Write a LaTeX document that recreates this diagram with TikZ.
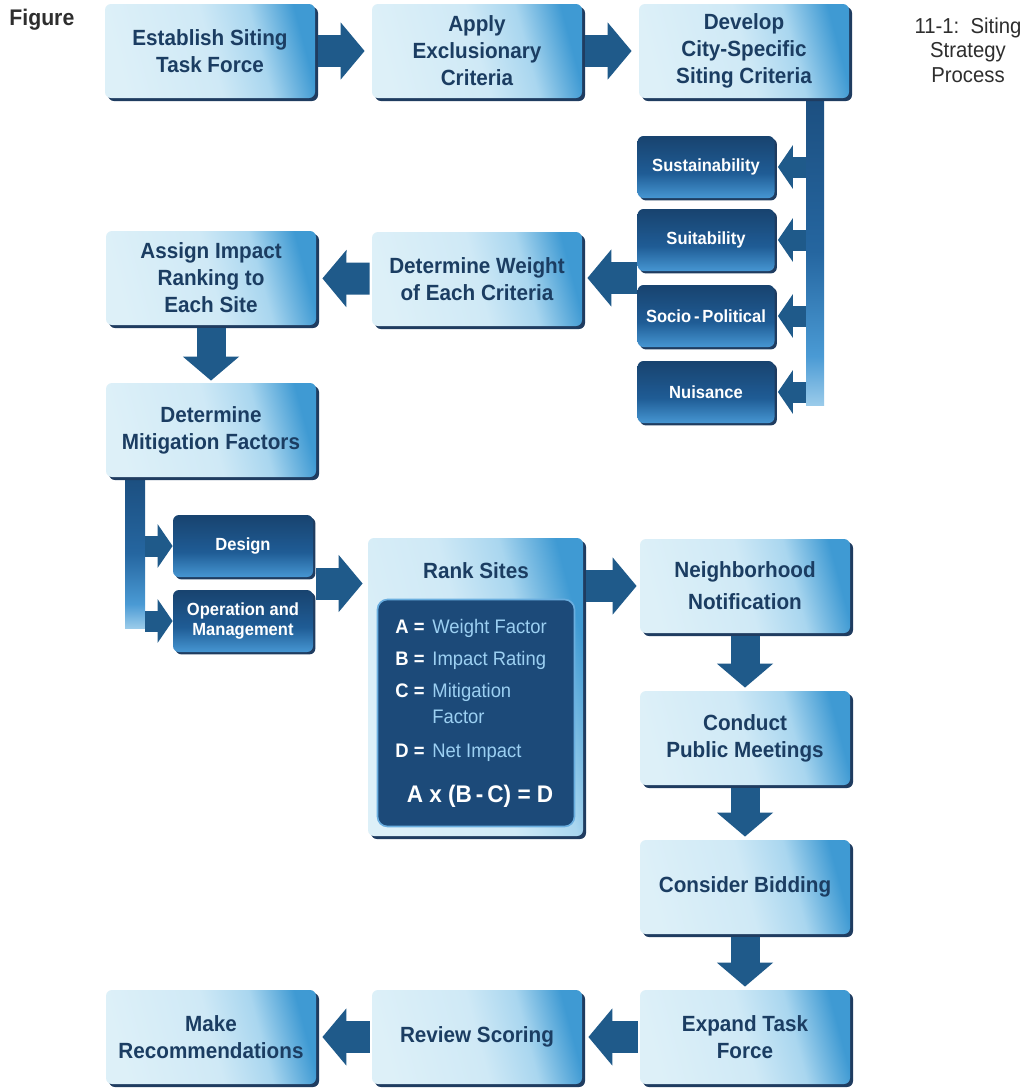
\documentclass[tikz,border=0pt]{standalone}
\usepackage{fontspec}
\setmainfont{Liberation Sans}[FakeStretch=0.94]
\usetikzlibrary{arrows.meta,shadows,calc}
\definecolor{bxA}{HTML}{DDF0F8}
\definecolor{bxM}{HTML}{CFE9F6}
\definecolor{bxB}{HTML}{A9D6EF}
\definecolor{bxC}{HTML}{3F9AD3}
\definecolor{shd}{HTML}{1F3C60}
\definecolor{arr}{HTML}{1F5A8A}
\definecolor{txt}{HTML}{1B3D62}
\definecolor{dkA}{HTML}{18436F}
\definecolor{dkB}{HTML}{1F5C95}
\definecolor{dkC}{HTML}{4696D2}
\definecolor{inn}{HTML}{1C4A79}
\definecolor{innE}{HTML}{6AAEDF}
\definecolor{ltxt}{HTML}{9CD0F2}
\definecolor{barA}{HTML}{1C4F80}
\definecolor{barB}{HTML}{2566A0}
\definecolor{barC}{HTML}{4A9AD4}
\definecolor{barD}{HTML}{9ACBEA}
\definecolor{ttl}{HTML}{2E2E2E}
\pgfdeclarehorizontalshading{lightbox}{100bp}{color(0bp)=(bxA); color(25bp)=(bxA); color(50bp)=(bxM); color(63bp)=(bxB); color(75bp)=(bxC); color(100bp)=(bxC)}
\pgfdeclareverticalshading{darkbox}{100bp}{color(0bp)=(dkC); color(25bp)=(dkC); color(45bp)=(dkB); color(75bp)=(dkA); color(100bp)=(dkA)}
\pgfdeclareverticalshading{barshade}{100bp}{color(0bp)=(barD); color(25bp)=(barD); color(33bp)=(barC); color(50bp)=(barB); color(75bp)=(barA); color(100bp)=(barA)}
\tikzset{
  lbox/.style={rounded corners=3pt, shading=lightbox, shading angle=15,
    minimum width=105pt, minimum height=47pt, inner sep=2pt, align=center,
    text=txt, font=\bfseries\fontsize{11}{13.5}\selectfont,
    drop shadow={shadow xshift=1.5pt, shadow yshift=-1.5pt, fill=shd, opacity=1}},
  dbox/.style={rounded corners=3pt, shading=darkbox, minimum width=68.5pt,
    minimum height=31pt, inner sep=2pt, align=center, text=white,
    font=\bfseries\fontsize{8.8}{10}\selectfont,
    drop shadow={shadow xshift=1.2pt, shadow yshift=-1.2pt, fill=shd, opacity=1}},
  barr/.style={draw=arr, line width=16pt, -{Triangle[length=12pt,width=28pt]}},
  darr/.style={draw=arr, line width=14.5pt, -{Triangle[length=12pt,width=27.5pt]}},
  sarr/.style={draw=arr, line width=10.5pt, -{Triangle[length=7.5pt,width=21.5pt]}},
  barfill/.style={shading=barshade},
  key/.style={anchor=base west, text=white, inner sep=0pt,
    font=\bfseries\fontsize{9.8}{11}\selectfont},
  val/.style={anchor=base west, text=ltxt, inner sep=0pt,
    font=\fontsize{9.8}{11}\selectfont},
  ttlsty/.style={text=ttl, inner sep=0pt}
}
\begin{document}
\begin{tikzpicture}[x=0.5pt, y=-0.5pt]
\fill[white] (0,0) rectangle (1028,1088);
\useasboundingbox (0,0) rectangle (1028,1088);

% titles
\node[ttlsty, anchor=base west, font=\bfseries\fontsize{11.3}{13}\selectfont] (fig) at (9,25) {Figure};
\node[ttlsty, anchor=north, align=center, font=\fontsize{10.8}{12.3}\selectfont] (title) at (968,17) {11-1:\ \ Siting\\Strategy\\Process};

% vertical bars
\shade[barfill] (806,98) rectangle (824,405);
\shade[barfill] (125,478) rectangle (145,628);
\coordinate (cb) at (806,0);
\coordinate (mb) at (145,0);

% main boxes
\node[lbox] (est) at (210,51) {Establish Siting\\Task Force};
\node[lbox] (apply) at (477,51) {Apply\\Exclusionary\\Criteria};
\node[lbox] (dev) at (744,51) {Develop\\City-Specific\\Siting Criteria};
\node[lbox] (assign) at (211,278) {Assign Impact\\Ranking to\\Each Site};
\node[lbox] (weight) at (477,279) {Determine Weight\\of Each Criteria};
\node[lbox] (mitig) at (211,430) {Determine\\Mitigation Factors};
\node[lbox, minimum width=107.5pt, minimum height=149pt] (rank) at (475.5,687) {};
\node[text=txt, font=\bfseries\fontsize{11}{13}\selectfont] (ranktitle) at (476,571) {Rank Sites};
\node[rounded corners=5pt, fill=inn, draw=innE, line width=0.8pt, minimum width=98.5pt, minimum height=113.5pt] (inner) at (476,713) {};
\node[lbox, font=\bfseries\fontsize{11}{16}\selectfont] (neigh) at (745,586) {Neighborhood\\Notification};
\node[lbox] (conduct) at (745,738) {Conduct\\Public Meetings};
\node[lbox] (bid) at (745,887) {Consider Bidding};
\node[lbox] (expand) at (745,1037) {Expand Task\\Force};
\node[lbox] (review) at (477,1037) {Review Scoring};
\node[lbox] (recom) at (211,1037) {Make\\Recommendations};

% criteria boxes
\node[dbox] (sust) at (706,167) {Sustainability};
\node[dbox] (suit) at (706,240) {Suitability};
\node[dbox] (socio) at (706,316) {Socio\,-\,Political};
\node[dbox] (nuis) at (706,392) {Nuisance};
\node[dbox, minimum width=70pt] (design) at (243,546) {Design};
\node[dbox, minimum width=70pt] (op) at (243,621) {Operation and\\Management};

% inner text
\node[key] (ka) at (395,633) {A =};
\node[val] (va) at (432,633) {Weight Factor};
\node[key] (kb) at (395,665) {B =};
\node[val] (vb) at (432,665) {Impact Rating};
\node[key] (kc) at (395,697) {C =};
\node[val] (vc) at (432,697) {Mitigation};
\node[val] (vc2) at (432,723) {Factor};
\node[key] (kd) at (395,757) {D =};
\node[val] (vd) at (432,757) {Net Impact};
\node[anchor=base, text=white, inner sep=0pt, font=\bfseries\fontsize{12}{13}\selectfont] (formula) at (480,802) {A x (B\,-\,C) = D};

% arrows
\draw[barr, shorten <=1.5pt, shorten >=3.5pt] (est) -- (apply);
\draw[barr, shorten <=1.5pt, shorten >=3.5pt] (apply) -- (dev);
\draw[sarr, shorten >=1.5pt] (cb |- sust.east) -- (sust.east);
\draw[sarr, shorten >=1.5pt] (cb |- suit.east) -- (suit.east);
\draw[sarr, shorten >=1.5pt] (cb |- socio.east) -- (socio.east);
\draw[sarr, shorten >=1.5pt] (cb |- nuis.east) -- (nuis.east);
\coordinate (cj) at ($(suit.south west)!0.5!(socio.north west)$);
\draw[barr, shorten >=2.5pt] (cj) -- (cj -| weight.east);
\draw[barr, shorten <=1pt, shorten >=3pt] (weight) -- (assign);
\draw[darr, shorten <=1.5pt, shorten >=1pt] (assign) -- (mitig);
\draw[sarr] (mb |- design.west) -- (design.west);
\draw[sarr] (mb |- op.west) -- (op.west);
\coordinate (dj) at ($(design.south east)!0.5!(op.north east)$);
\draw[barr, shorten <=1.5pt, shorten >=2.5pt] (dj) -- (dj -| rank.west);
\draw[barr, shorten <=1.5pt, shorten >=1.5pt] (rank.east |- neigh.west) -- (neigh.west);
\draw[darr, shorten <=1.5pt, shorten >=1.5pt] (neigh) -- (conduct);
\draw[darr, shorten <=1.5pt, shorten >=1.5pt] (conduct) -- (bid);
\draw[darr, shorten <=1.5pt, shorten >=1.5pt] (bid) -- (expand);
\draw[barr, shorten <=1pt, shorten >=3pt] (expand) -- (review);
\draw[barr, shorten <=1pt, shorten >=3pt] (review) -- (recom);
\end{tikzpicture}
\end{document}
